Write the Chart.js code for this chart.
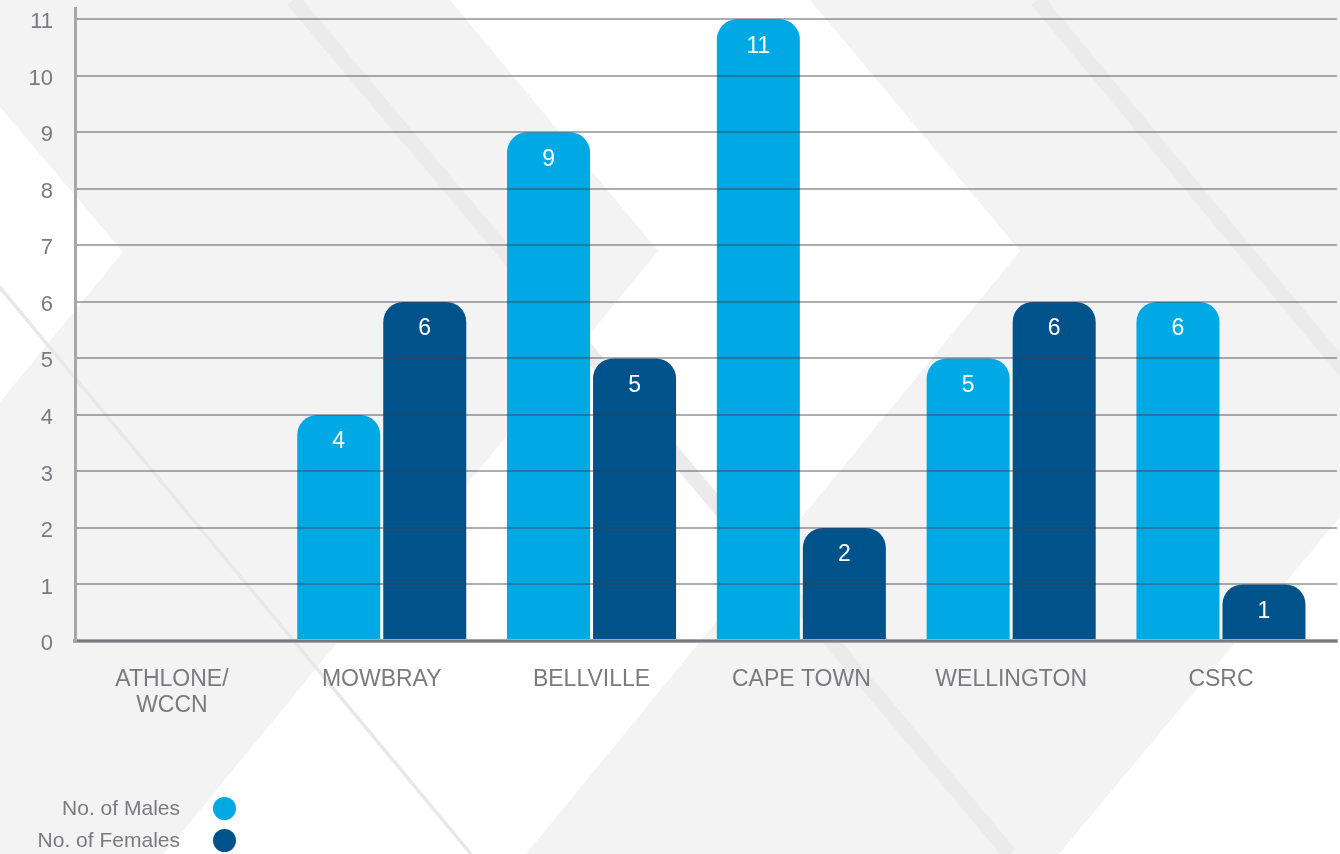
<!DOCTYPE html>
<html>
<head>
<meta charset="utf-8">
<title>Males and females per site</title>
<script src="https://cdn.jsdelivr.net/npm/chart.js@4/dist/chart.umd.min.js"></script>
<style>
  html, body { margin: 0; padding: 0; overflow: hidden; }
  body { width: 1340px; height: 854px; position: relative; font-family: "Liberation Sans", Arial, sans-serif; }
  #bg, #wrap { position: absolute; left: 0; top: 0; width: 1340px; height: 854px; }
  #legend { position: absolute; left: 0; top: 792px; width: 236px; }
  .row { display: flex; justify-content: flex-end; align-items: center; height: 32px; }
  .row span.txt { font-size: 21px; color: #7a7a7f; }
  .row span.dot { width: 23px; height: 23px; border-radius: 50%; margin-left: 33px; }
</style>
</head>
<body>
<!-- backdrop: light grey sheet with white chevrons and faint diagonal stripes -->
<svg id="bg" width="1340" height="854" xmlns="http://www.w3.org/2000/svg">
  <rect x="0" y="0" width="1340" height="854" fill="#f3f3f3"/>
  <polygon fill="#ffffff" points="0,107 123,252 0,402"/>
  <polygon fill="#ffffff" points="450,0 810,0 1020,251 526,854 164,854 658,251"/>
  <polygon fill="#ffffff" points="1340,517 1340,854 1059,854"/>
  <line x1="-239" y1="0" x2="471" y2="854" stroke="#e8e8ea" stroke-width="3.5"/>
  <line x1="293" y1="0" x2="1010" y2="854" stroke="#ebebec" stroke-width="15"/>
  <line x1="1037" y1="0" x2="1346" y2="372" stroke="#ebebec" stroke-width="15"/>
</svg>
<div id="wrap"><canvas id="chart" width="1340" height="854"></canvas></div>
<div id="legend"></div>
<script>
// sites along the x axis and head counts per site
const sites   = [['ATHLONE/', 'WCCN'], 'MOWBRAY', 'BELLVILLE', 'CAPE TOWN', 'WELLINGTON', 'CSRC'];
const males   = [0, 4, 9, 11, 5, 6];
const females = [0, 6, 5, 2, 6, 1];
const seriesNames  = ['No. of Males', 'No. of Females'];
const seriesColors = ['#00a9e4', '#00538a'];

const FONT = '"Liberation Sans", Arial, sans-serif';
const GREY_TEXT = '#7a7a7f';

// white numbers inside the top of each bar
const barValueLabels = {
  id: 'barValueLabels',
  afterDatasetsDraw(chart) {
    const ctx = chart.ctx;
    ctx.save();
    ctx.font = '23px ' + FONT;
    ctx.fillStyle = '#ffffff';
    ctx.textAlign = 'center';
    ctx.textBaseline = 'middle';
    chart.data.datasets.forEach((ds, di) => {
      chart.getDatasetMeta(di).data.forEach((bar, i) => {
        const v = ds.data[i].y;
        if (!v) return;
        ctx.fillText(String(v), bar.x, bar.y + 27);
      });
    });
    ctx.restore();
  }
};

const toPoints = arr => arr.map((v, i) => ({ x: i, y: v }));

// no extra room around the plot for overhanging tick labels
const noPad = s => { s.paddingTop = 0; s.paddingBottom = 0; s.paddingLeft = 0; s.paddingRight = 0; };

const chart = new Chart(document.getElementById('chart').getContext('2d'), {
  type: 'bar',
  data: {
    datasets: [
      { label: seriesNames[0], data: toPoints(males),   backgroundColor: seriesColors[0] },
      { label: seriesNames[1], data: toPoints(females), backgroundColor: seriesColors[1] }
    ]
  },
  options: {
    responsive: false,
    animation: false,
    layout: { padding: { top: 8, right: 3, left: 0, bottom: 0 } },
    datasets: {
      bar: {
        categoryPercentage: 0.82,
        barPercentage: 0.965,
        borderRadius: 20,
        borderSkipped: 'bottom'
      }
    },
    plugins: {
      legend: { display: false },
      tooltip: { enabled: false }
    },
    scales: {
      x: {
        type: 'linear',
        offset: false,
        min: -0.462,
        max: 5.553,
        afterFit: s => { s.height = 213; noPad(s); },
        afterBuildTicks: s => { s.ticks = sites.map((_, i) => ({ value: i })); },
        grid: { display: false },
        border: { display: true, color: '#a6a6ab', width: 4, z: 1 },
        ticks: {
          padding: 18,
          color: GREY_TEXT,
          font: { family: FONT, size: 23, lineHeight: 1.13 },
          maxRotation: 0,
          autoSkip: false,
          callback: v => sites[v]
        }
      },
      y: {
        min: 0,
        max: 11.2,
        afterFit: s => { s.width = 75; noPad(s); },
        grid: {
          color: 'rgba(60,60,70,0.42)',
          lineWidth: 2,
          drawTicks: false,
          z: 1
        },
        border: { display: true, color: '#a6a6ab', width: 3, z: 1 },
        ticks: {
          stepSize: 1,
          includeBounds: false,
          padding: 22,
          labelOffset: 3,
          color: GREY_TEXT,
          font: { family: FONT, size: 22 }
        }
      }
    }
  },
  plugins: [barValueLabels]
});

// legend: label on the left, colour dot on the right
const legend = document.getElementById('legend');
chart.data.datasets.forEach(ds => {
  const row = document.createElement('div');
  row.className = 'row';
  row.innerHTML = `<span class="txt">${ds.label}</span><span class="dot" style="background:${ds.backgroundColor}"></span>`;
  legend.append(row);
});
</script>
</body>
</html>
